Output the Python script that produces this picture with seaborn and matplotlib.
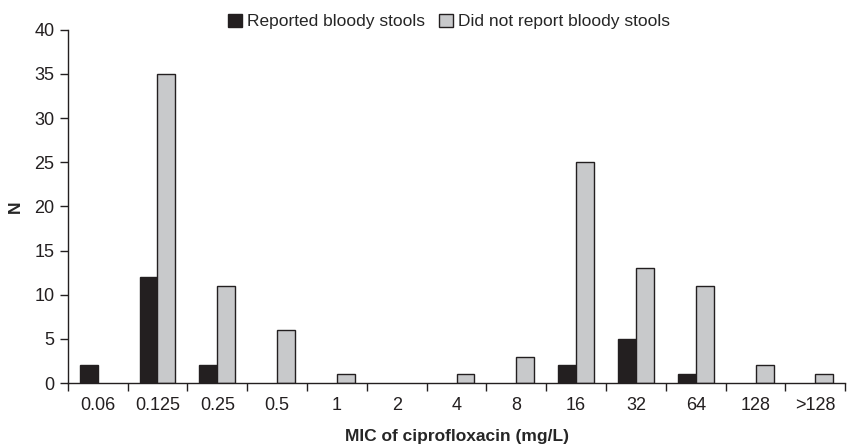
import pandas as pd
import numpy as np
import matplotlib
matplotlib.use("Agg")
import matplotlib.pyplot as plt
import seaborn as sns

mic = ["0.06", "0.125", "0.25", "0.5", "1", "2", "4", "8", "16", "32", "64", "128", ">128"]
bloody = [2, 12, 2, 0, 0, 0, 0, 0, 2, 5, 1, 0, 0]
no_bloody = [0, 35, 11, 6, 1, 0, 1, 3, 25, 13, 11, 2, 1]

s1 = "Reported bloody stools"
s2 = "Did not report bloody stools"

df = pd.DataFrame({
    "MIC": mic * 2,
    "N": bloody + no_bloody,
    "group": [s1] * len(mic) + [s2] * len(mic),
})

sns.set_style("ticks")
plt.rcParams["font.family"] = ["Liberation Sans", "DejaVu Sans"]

fig = plt.figure(figsize=(8.47, 4.45), dpi=100)
ax = fig.add_axes([0.080, 0.139, 0.918, 0.794])

sns.barplot(data=df, x="MIC", y="N", hue="group", order=mic,
            palette={s1: "#231f20", s2: "#c8c9cb"}, width=0.6,
            edgecolor="#231f20", linewidth=1.0, saturation=1, ax=ax)

ax.legend(loc="upper center", bbox_to_anchor=(0.49, 1.09), ncol=2, frameon=False,
          fontsize=12.5, handlelength=0.8, handleheight=0.8, handletextpad=0.3,
          columnspacing=0.8, title=None)

# empty bars have no outline in the original (after legend so handles stay)
for p in ax.patches:
    if p.get_height() == 0:
        p.set_visible(False)

ax.set_xlim(-0.5, len(mic) - 0.5)
ax.set_ylim(0, 40)
ax.set_yticks(range(0, 41, 5))
ax.set_xticks(np.arange(-0.5, len(mic), 1), minor=True)
ax.tick_params(axis="x", which="major", length=0, labelsize=13, pad=10, colors="#231f20")
ax.tick_params(axis="x", which="minor", length=6, width=1, color="#231f20")
ax.tick_params(axis="y", length=6, width=1, labelsize=13, color="#231f20", labelcolor="#231f20")
for sp in ["top", "right"]:
    ax.spines[sp].set_visible(False)
for sp in ["left", "bottom"]:
    ax.spines[sp].set_color("#231f20")
    ax.spines[sp].set_linewidth(1)

ax.set_xlabel("MIC of ciprofloxacin (mg/L)", fontsize=12.5, fontweight="bold", labelpad=11)
ax.set_ylabel("N", fontsize=12.5, fontweight="bold", labelpad=8)

fig.savefig("out.png", dpi=100)
